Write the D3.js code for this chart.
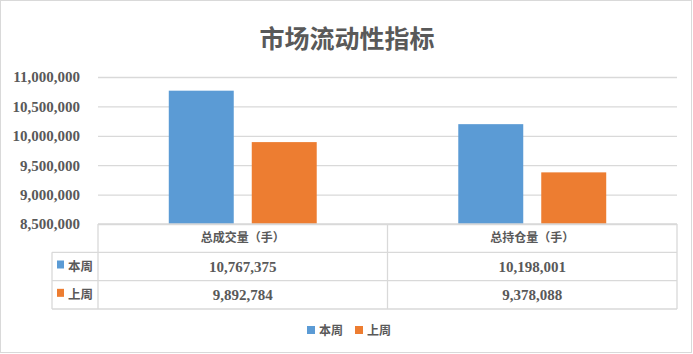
<!DOCTYPE html>
<html>
<head>
<meta charset="utf-8">
<script src="https://cdn.jsdelivr.net/npm/d3@7/dist/d3.min.js"></script>
<style>
  body { margin: 0; background: #fff; }
  svg { display: block; }
</style>
</head>
<body>
<svg></svg>
<script>
const title = "市场流动性指标";
const categories = ["总成交量（手）", "总持仓量（手）"];
const series = ["本周", "上周"];
const thisWeek = [10767375, 10198001];
const lastWeek = [9892784, 9378088];
const yTicks = [8500000, 9000000, 9500000, 10000000, 10500000, 11000000];
const colors = ["#5B9BD5", "#ED7D31"];

const values = [thisWeek, lastWeek];
const width = 693, height = 354;
const margin = { top: 77, right: 16, bottom: 130, left: 98 };
const textColor = "#595959";
const lineColor = "#d9d9d9";
const cjk = "Noto Sans CJK SC";
const serif = "Liberation Serif";

const svg = d3.select("svg")
    .attr("width", width)
    .attr("height", height);

// outer border
svg.append("rect")
    .attr("x", 0.5).attr("y", 0.5)
    .attr("width", width - 2).attr("height", height - 2)
    .attr("fill", "white")
    .attr("stroke", lineColor);

svg.append("text")
    .attr("x", 347)
    .attr("y", 48)
    .attr("text-anchor", "middle")
    .attr("font-family", cjk)
    .attr("font-weight", "bold")
    .attr("font-size", 25)
    .attr("fill", textColor)
    .text(title);

const x = d3.scaleBand()
    .domain(categories)
    .range([margin.left, width - margin.right]);

const x1 = d3.scaleBand()
    .domain(series)
    .range([0, x.bandwidth()])
    .paddingInner(0.217)
    .paddingOuter(0.853);

const y = d3.scaleLinear()
    .domain([8500000, 11000000])
    .range([height - margin.bottom, margin.top]);

// y axis with gridlines
const yAxis = svg.append("g")
    .attr("transform", `translate(${margin.left},0)`)
    .call(d3.axisLeft(y)
        .tickValues(yTicks)
        .tickSizeInner(-(width - margin.right - margin.left))
        .tickSizeOuter(0)
        .tickPadding(18)
        .tickFormat(d3.format(",")))
    .attr("font-family", serif)
    .attr("font-size", 15)
    .attr("font-weight", "bold");
yAxis.select(".domain").remove();
yAxis.selectAll("line").attr("stroke", lineColor).attr("stroke-width", 1.3);
yAxis.selectAll("text").attr("fill", textColor);

// bars
const groups = svg.selectAll(".cat")
    .data(categories)
    .enter()
    .append("g")
    .attr("transform", d => `translate(${x(d)},0)`);

groups.selectAll("rect")
    .data((d, i) => series.map((s, j) => ({ s, v: values[j][i], c: colors[j] })))
    .enter()
    .append("rect")
    .attr("x", d => x1(d.s))
    .attr("y", d => y(d.v))
    .attr("width", x1.bandwidth())
    .attr("height", d => y(8500000) - y(d.v))
    .attr("fill", d => d.c);

// data table
const tableLeft = 52;
const rowY = d3.scaleBand()
    .domain(["header"].concat(series))
    .range([y(8500000), 309]);
const tableRight = width - margin.right;
const tbl = svg.append("g").attr("stroke", lineColor).attr("stroke-width", 1.3);

tbl.append("line")
    .attr("x1", margin.left).attr("x2", tableRight)
    .attr("y1", rowY("header")).attr("y2", rowY("header"));
series.forEach(s => {
    tbl.append("line")
        .attr("x1", tableLeft).attr("x2", tableRight)
        .attr("y1", rowY(s)).attr("y2", rowY(s));
});
tbl.append("line")
    .attr("x1", tableLeft).attr("x2", tableRight)
    .attr("y1", rowY.range()[1]).attr("y2", rowY.range()[1]);
tbl.append("line")
    .attr("x1", tableLeft).attr("x2", tableLeft)
    .attr("y1", rowY(series[0])).attr("y2", rowY.range()[1]);
categories.forEach(c => {
    tbl.append("line")
        .attr("x1", x(c)).attr("x2", x(c))
        .attr("y1", rowY("header")).attr("y2", rowY.range()[1]);
});
tbl.append("line")
    .attr("x1", tableRight).attr("x2", tableRight)
    .attr("y1", rowY("header")).attr("y2", rowY.range()[1]);

// header text
svg.selectAll(".hdr")
    .data(categories)
    .enter()
    .append("text")
    .attr("x", d => x(d) + x.bandwidth() / 2)
    .attr("y", rowY("header") + rowY.bandwidth() / 2)
    .attr("dy", "0.35em")
    .attr("text-anchor", "middle")
    .attr("font-family", cjk)
    .attr("font-weight", "bold")
    .attr("font-size", 12)
    .attr("fill", textColor)
    .text(d => d);

// row labels with legend keys
series.forEach((s, j) => {
    const cy = rowY(s) + rowY.bandwidth() / 2;
    svg.append("rect")
        .attr("x", 57).attr("y", cy - 6)
        .attr("width", 7).attr("height", 8)
        .attr("fill", colors[j]);
    svg.append("text")
        .attr("x", 68).attr("y", cy)
        .attr("dy", "0.35em")
        .attr("font-family", cjk)
        .attr("font-weight", "bold")
        .attr("font-size", 12.5)
        .attr("fill", textColor)
        .text(s);
    svg.selectAll(".val" + j)
        .data(categories)
        .enter()
        .append("text")
        .attr("x", d => x(d) + x.bandwidth() / 2)
        .attr("y", cy)
        .attr("dy", "0.35em")
        .attr("text-anchor", "middle")
        .attr("font-family", serif)
        .attr("font-weight", "bold")
        .attr("font-size", 15)
        .attr("fill", textColor)
        .text((d, i) => d3.format(",")(values[j][i]));
});

// bottom legend
const legendX = [307, 355];
series.forEach((s, j) => {
    svg.append("rect")
        .attr("x", legendX[j]).attr("y", 326)
        .attr("width", 8).attr("height", 8)
        .attr("fill", colors[j]);
    svg.append("text")
        .attr("x", legendX[j] + 12).attr("y", 330.5)
        .attr("dy", "0.35em")
        .attr("font-family", cjk)
        .attr("font-weight", "bold")
        .attr("font-size", 12)
        .attr("fill", textColor)
        .text(s);
});
</script>
</body>
</html>
